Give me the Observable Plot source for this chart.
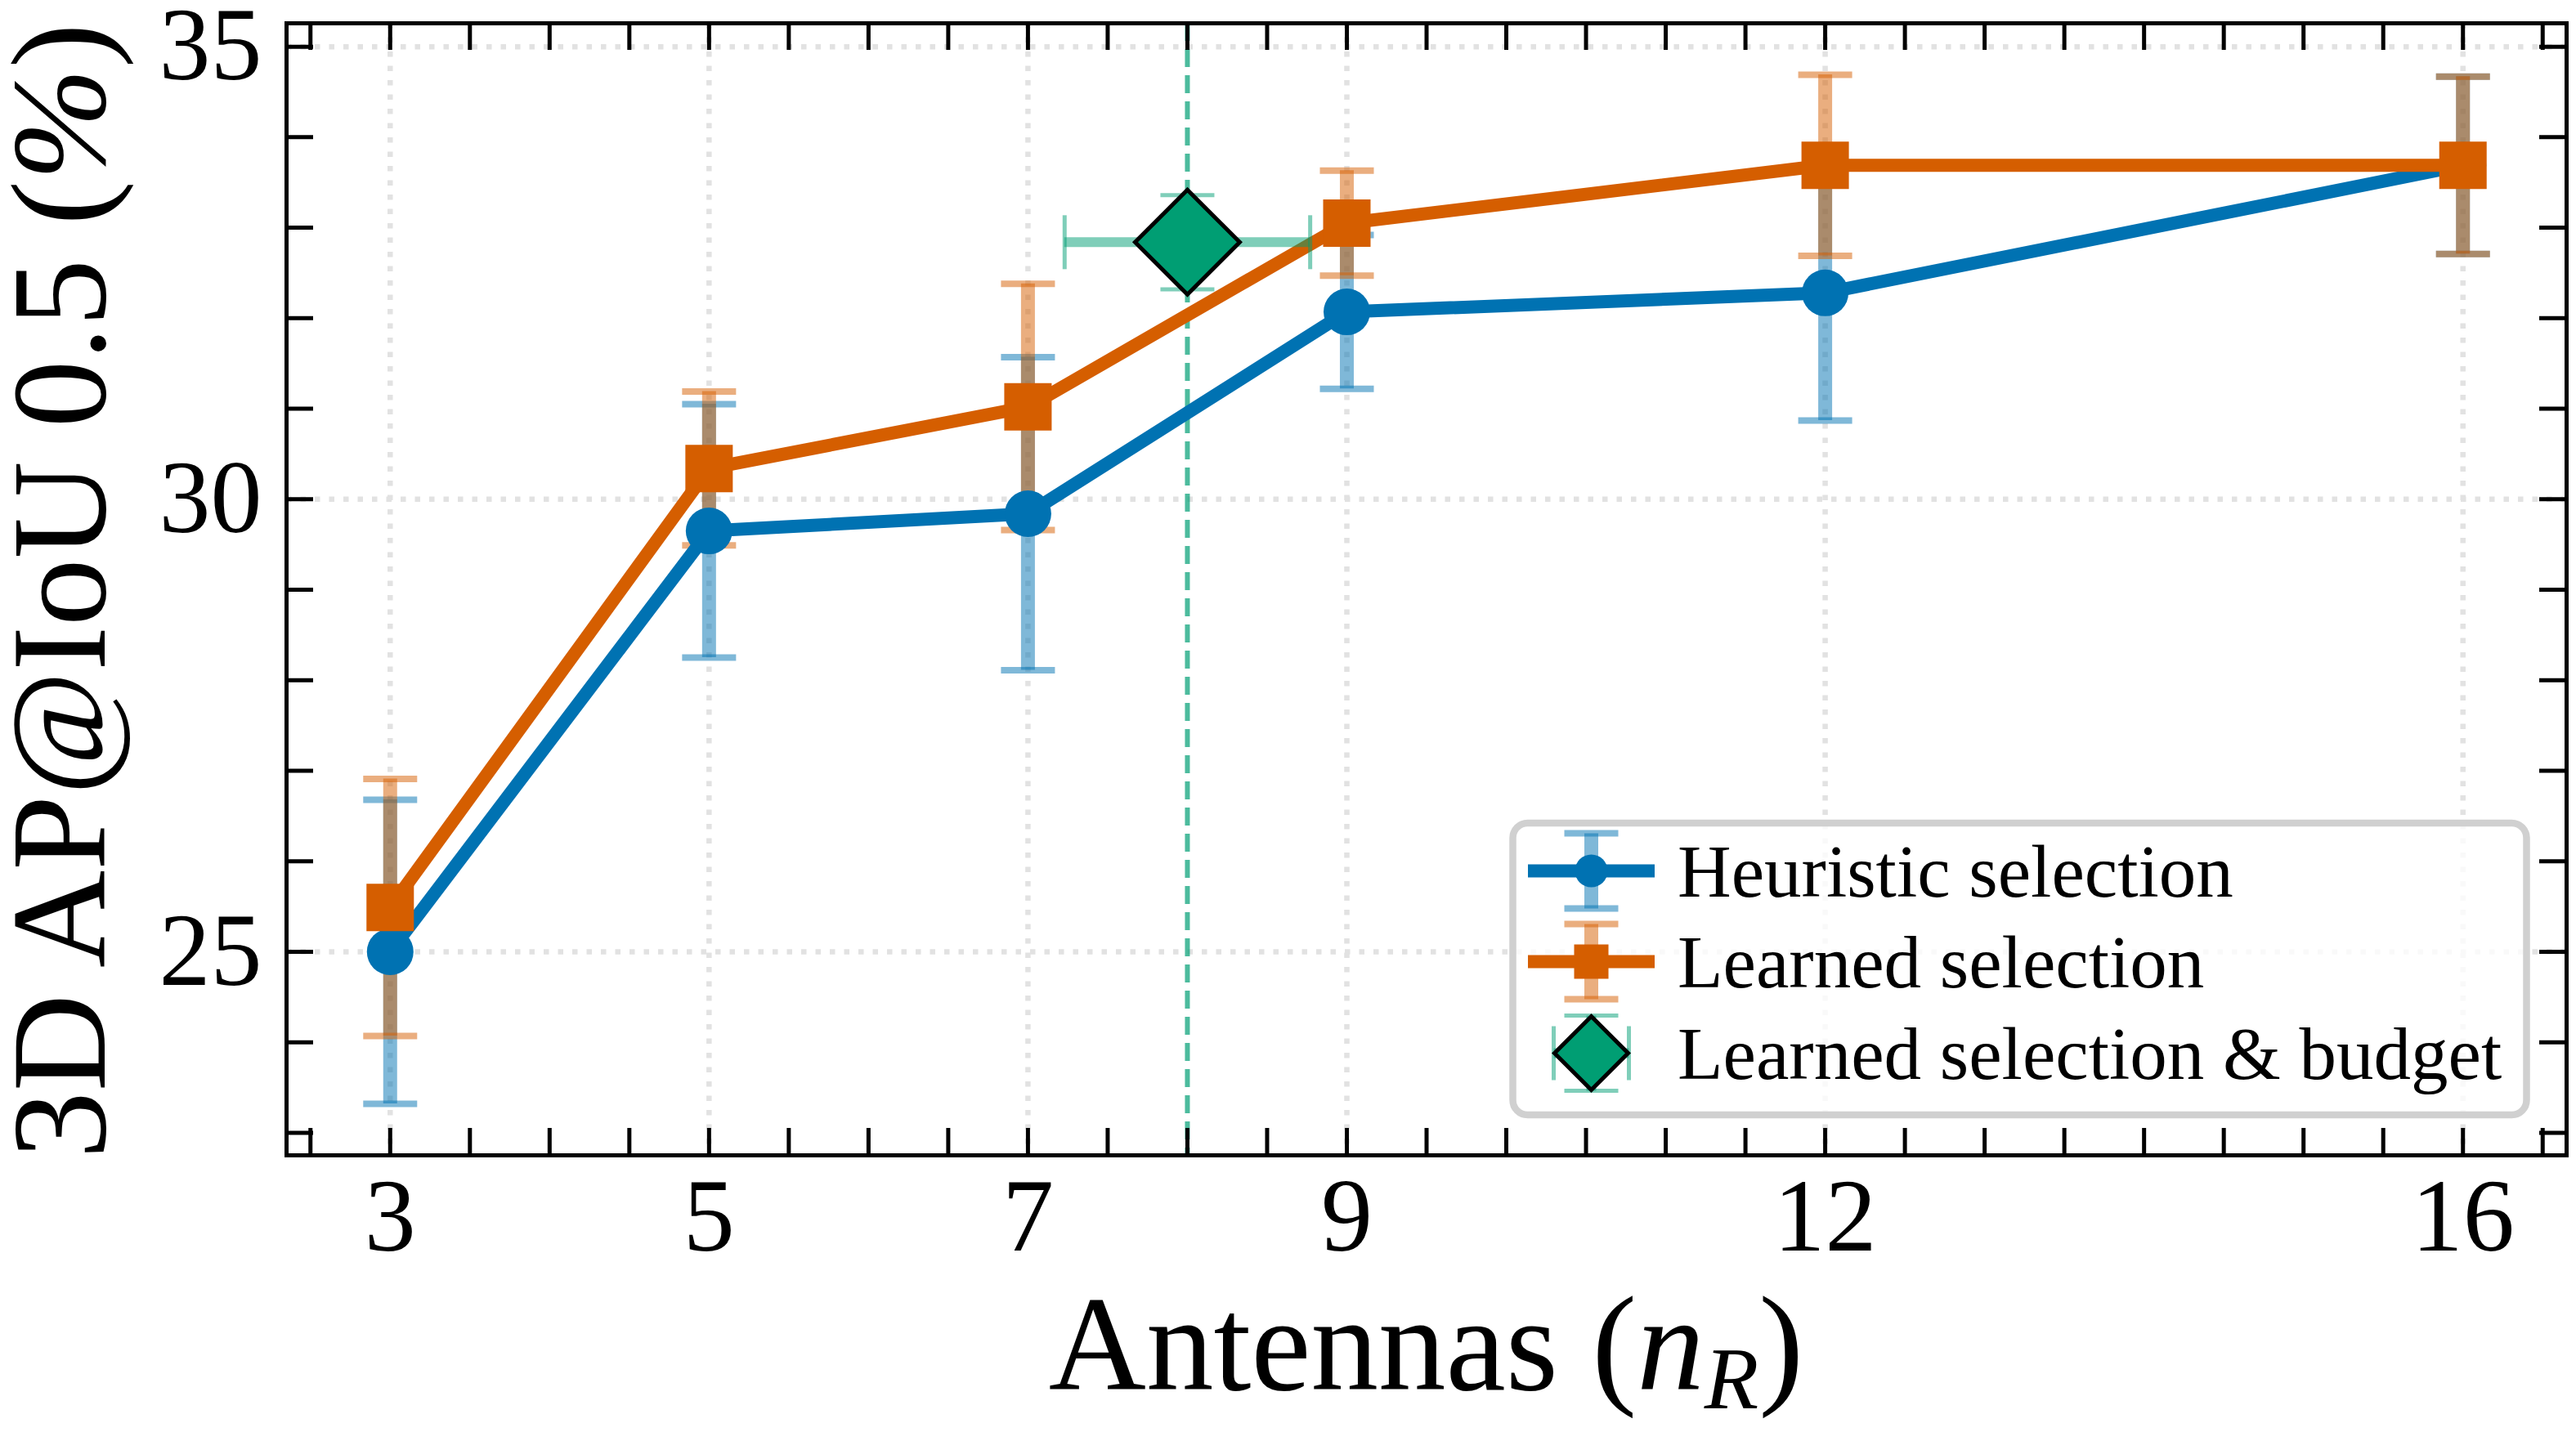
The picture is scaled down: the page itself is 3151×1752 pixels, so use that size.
<!DOCTYPE html>
<html><head><meta charset="utf-8">
<script src="https://cdn.jsdelivr.net/npm/d3@7"></script>
<script src="https://cdn.jsdelivr.net/npm/@observablehq/plot@0.6"></script>
<style>html,body{margin:0;padding:0;background:#fff;overflow:hidden}</style>
</head><body><div id="chart"></div>
<script>
// ---- data ----
const nR = [3, 5, 7, 9, 12, 16];
const heuristicMean = [25.00, 29.65, 29.84, 32.07, 32.28, 33.69];
const heuristicErr  = [1.68, 1.40, 1.73, 0.85, 1.41, 0.98];
const learnedMean   = [25.49, 30.34, 31.02, 33.05, 33.69, 33.69];
const learnedErr    = [1.42, 0.85, 1.36, 0.58, 1.00, 0.98];
const budgetX = [8];
const budgetXErr = [0.77];
const budgetY = [32.84];
const budgetYErr = [0.52];
const budgetLine = [8];
const xTicks = [3, 5, 7, 9, 12, 16];
const yTicks = [25, 30, 35];
const legendLabels = ["Heuristic selection", "Learned selection", "Learned selection & budget"];

// ---- styles ----
const blue = "#0072B2", orange = "#D55E00", green = "#009E73";
const W = 3151, H = 1752, mL = 350, mR = 12, mT = 28, mB = 339;
const plotW = W - mL - mR, plotH = H - mT - mB;
const FONT = "'Liberation Serif', 'Times New Roman', serif";

const heur = nR.map((x, i) => ({x, y: heuristicMean[i], e: heuristicErr[i]}));
const learn = nR.map((x, i) => ({x, y: learnedMean[i], e: learnedErr[i]}));
const budget = budgetX.map((x, i) => ({x, xe: budgetXErr[i], y: budgetY[i], e: budgetYErr[i]}));

// matplotlib-like 5% margins
const allLo = [...heur, ...learn, ...budget].map(d => d.y - d.e);
const allHi = [...heur, ...learn, ...budget].map(d => d.y + d.e);
const yMin = d3.min(allLo), yMax = d3.max(allHi), yPad = (yMax - yMin) * 0.05;
const xMin = d3.min(nR), xMax = d3.max(nR), xPad = (xMax - xMin) * 0.05;
const xMinor = d3.range(2.5, 16.51, 0.5);
const yMinor = d3.range(23, 35.01, 1);

const rad = s => Math.sqrt(s / Math.PI);
const hline = {draw(c, s) { const r = rad(s); c.moveTo(-r, 0); c.lineTo(r, 0); }};
const vline = {draw(c, s) { const r = rad(s); c.moveTo(0, -r); c.lineTo(0, r); }};
const square = {draw(c, s) { const r = rad(s); c.rect(-r, -r, 2 * r, 2 * r); }};
const diamond = {draw(c, s) { const r = rad(s); c.moveTo(0, -r); c.lineTo(r, 0); c.lineTo(0, r); c.lineTo(-r, 0); c.closePath(); }};

function errMarks(data, color) {
  return [
    Plot.ruleX(data, {x: "x", y1: d => d.y - d.e, y2: d => d.y + d.e, stroke: color, strokeOpacity: 0.5, strokeWidth: 17}),
    Plot.dot(data, {x: "x", y: d => d.y + d.e, symbol: hline, r: 33, stroke: color, strokeOpacity: 0.5, strokeWidth: 8, fill: "none"}),
    Plot.dot(data, {x: "x", y: d => d.y - d.e, symbol: hline, r: 33, stroke: color, strokeOpacity: 0.5, strokeWidth: 8, fill: "none"})
  ];
}

const chart = Plot.plot({
  width: W, height: H,
  marginLeft: mL, marginRight: mR, marginTop: mT, marginBottom: mB,
  style: {fontFamily: FONT, color: "black", background: "white"},
  x: {domain: [xMin - xPad, xMax + xPad]},
  y: {domain: [yMin - yPad, yMax + yPad]},
  marks: [
    Plot.ruleX(xTicks, {x: d => d, stroke: "#e2e2e2", strokeWidth: 6.5, strokeDasharray: "6.5,11"}),
    Plot.ruleY(yTicks, {y: d => d, stroke: "#e2e2e2", strokeWidth: 6.5, strokeDasharray: "6.5,11"}),
    Plot.ruleX(budgetLine, {x: d => d, stroke: green, strokeOpacity: 0.7, strokeWidth: 6, strokeDasharray: "22,10"}),
    ...errMarks(heur, blue),
    ...errMarks(learn, orange),
    Plot.line(heur, {x: "x", y: "y", stroke: blue, strokeWidth: 16}),
    Plot.dot(heur, {x: "x", y: "y", r: 28.5, fill: blue}),
    Plot.line(learn, {x: "x", y: "y", stroke: orange, strokeWidth: 16}),
    Plot.dot(learn, {x: "x", y: "y", symbol: square, r: 29, fill: orange}),
    // budget error bars
    Plot.ruleY(budget, {y: "y", x1: d => d.x - d.xe, x2: d => d.x + d.xe, stroke: green, strokeOpacity: 0.5, strokeWidth: 12}),
    Plot.ruleX(budget, {x: "x", y1: d => d.y - d.e, y2: d => d.y + d.e, stroke: green, strokeOpacity: 0.5, strokeWidth: 12}),
    Plot.dot(budget, {x: d => d.x - d.xe, y: "y", symbol: vline, r: 33, stroke: green, strokeOpacity: 0.5, strokeWidth: 5, fill: "none"}),
    Plot.dot(budget, {x: d => d.x + d.xe, y: "y", symbol: vline, r: 33, stroke: green, strokeOpacity: 0.5, strokeWidth: 5, fill: "none"}),
    Plot.dot(budget, {x: "x", y: d => d.y + d.e, symbol: hline, r: 33, stroke: green, strokeOpacity: 0.5, strokeWidth: 5, fill: "none"}),
    Plot.dot(budget, {x: "x", y: d => d.y - d.e, symbol: hline, r: 33, stroke: green, strokeOpacity: 0.5, strokeWidth: 5, fill: "none"}),
    Plot.dot(budget, {x: "x", y: "y", symbol: diamond, r: 64, fill: green, stroke: "black", strokeWidth: 5}),
    // inward ticks on all sides
    Plot.tickX(xMinor, {x: d => d, stroke: "black", strokeWidth: 5, insetTop: plotH - 33}),
    Plot.tickX(xMinor, {x: d => d, stroke: "black", strokeWidth: 5, insetBottom: plotH - 33}),
    Plot.tickY(yMinor, {y: d => d, stroke: "black", strokeWidth: 5, insetRight: plotW - 33}),
    Plot.tickY(yMinor, {y: d => d, stroke: "black", strokeWidth: 5, insetLeft: plotW - 33}),
    Plot.frame({stroke: "black", strokeWidth: 5}),
    Plot.axisX({ticks: xTicks, tickSize: 0, tickPadding: 27.5, fontSize: 126, label: null, tickFormat: d => String(d)}),
    Plot.axisY({ticks: yTicks, tickSize: 0, tickPadding: 30, fontSize: 126, label: null, tickFormat: d => String(d)})
  ]
});
document.getElementById("chart").appendChild(chart);

// ---- axis labels & legend (added to the same SVG) ----
const svg = d3.select(chart);
const LABEL = 165;
const xl = svg.append("text").attr("x", mL + plotW / 2).attr("y", 1700)
  .attr("text-anchor", "middle").attr("font-size", LABEL).attr("font-family", FONT).attr("fill", "black");
xl.append("tspan").text("Antennas (");
xl.append("tspan").attr("font-style", "italic").text("n");
xl.append("tspan").attr("font-style", "italic").attr("font-size", LABEL * 0.66).attr("dy", 23).text("R");
xl.append("tspan").attr("dy", -23).text(")");

const yl = svg.append("text").attr("transform", `translate(128,723) rotate(-90)`)
  .attr("text-anchor", "middle").attr("font-size", LABEL).attr("font-family", FONT).attr("fill", "black");
yl.append("tspan").text("3D AP@IoU 0.5 (");
yl.append("tspan").attr("font-style", "italic").text("%");
yl.append("tspan").text(")");

const lg = svg.append("g").attr("text-anchor", "start");
lg.append("rect").attr("x", 1850.5).attr("y", 1007).attr("width", 1240).attr("height", 357)
  .attr("rx", 18).attr("fill", "white").attr("fill-opacity", 0.8).attr("stroke", "#d0d0d0").attr("stroke-width", 8.5);
const hx = 1946.5, rows = [1065.5, 1176.5, 1288.5], colors = [blue, orange, green];
function seg(g, x1, y1, x2, y2, color, w, op) {
  g.append("line").attr("x1", x1).attr("y1", y1).attr("x2", x2).attr("y2", y2)
    .attr("stroke", color).attr("stroke-width", w).attr("stroke-opacity", op);
}
rows.forEach((cy, i) => {
  const c = colors[i];
  if (i < 2) {
    seg(lg, hx, cy - 46, hx, cy + 46, c, 17, 0.5);
    seg(lg, hx - 33, cy - 46, hx + 33, cy - 46, c, 8, 0.5);
    seg(lg, hx - 33, cy + 46, hx + 33, cy + 46, c, 8, 0.5);
    seg(lg, 1869, cy, 2024, cy, c, 16, 1);
    if (i === 0) lg.append("circle").attr("cx", hx).attr("cy", cy).attr("r", 20).attr("fill", c);
    else lg.append("rect").attr("x", hx - 21).attr("y", cy - 21).attr("width", 42).attr("height", 42).attr("fill", c);
  } else {
    seg(lg, hx - 46, cy, hx + 46, cy, c, 12, 0.5);
    seg(lg, hx, cy - 46, hx, cy + 46, c, 12, 0.5);
    seg(lg, hx - 46, cy - 33, hx - 46, cy + 33, c, 5, 0.5);
    seg(lg, hx + 46, cy - 33, hx + 46, cy + 33, c, 5, 0.5);
    seg(lg, hx - 33, cy - 46, hx + 33, cy - 46, c, 5, 0.5);
    seg(lg, hx - 33, cy + 46, hx + 33, cy + 46, c, 5, 0.5);
    const r = 45;
    lg.append("path").attr("d", `M${hx},${cy - r}L${hx + r},${cy}L${hx},${cy + r}L${hx - r},${cy}Z`)
      .attr("fill", c).attr("stroke", "black").attr("stroke-width", 5);
  }
  lg.append("text").attr("x", 2052).attr("y", cy + 31.5).attr("font-size", 91).attr("text-anchor", "start")
    .attr("font-family", FONT).attr("fill", "black").text(legendLabels[i]);
});
</script></body></html>
